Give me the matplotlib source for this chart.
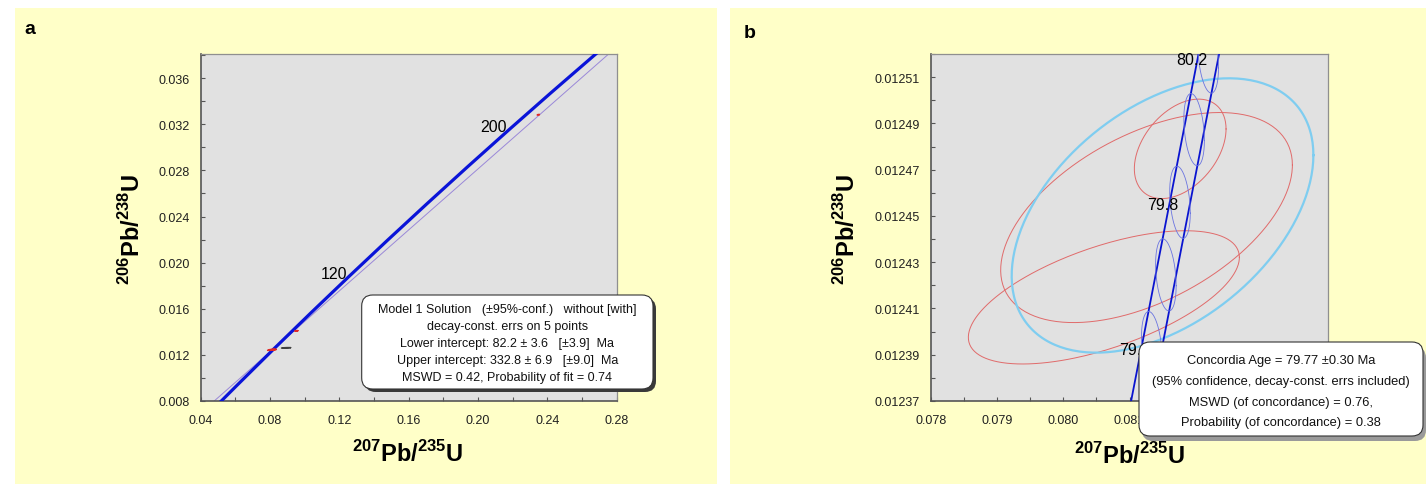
"""U-Pb concordia diagrams: (a) discordia fit, (b) concordia age detail"""

import numpy as np
import matplotlib
matplotlib.use("Agg")
import matplotlib.pyplot as plt
import matplotlib.ticker as mticker
from matplotlib.patches import FancyBboxPatch, Rectangle

plt.rcParams["font.family"] = ["Liberation Sans", "DejaVu Sans"]
plt.rcParams["mathtext.fontset"] = "custom"
plt.rcParams["mathtext.rm"] = "Liberation Sans"
plt.rcParams["mathtext.bf"] = "Liberation Sans:bold"

W, H = 1426, 485

# concordia curve, wide view (age Ma, 207Pb/235U, 206Pb/238U)
conc_age_a = [50, 60, 80, 100, 120, 140, 160, 180, 200, 220, 240, 250]
conc_x_a = [0.050475, 0.060872, 0.081975, 0.103498, 0.125451, 0.147842,
            0.170683, 0.193970, 0.217717, 0.241929, 0.266625, 0.279182]
conc_y_a = [0.007786, 0.009351, 0.012487, 0.015633, 0.018789, 0.021955,
            0.025131, 0.028316, 0.031511, 0.034717, 0.037932, 0.039543]
label_ages_a = [120, 200]

# concordia curve, close-up
conc_age_b = [79.2, 79.4, 79.6, 79.8, 80.0, 80.2, 80.4]
conc_x_b = [0.081123, 0.081336, 0.081549, 0.081762, 0.081975, 0.082188, 0.082401]
conc_y_b = [0.0123617, 0.0123931, 0.0124245, 0.0124559, 0.0124873, 0.0125187, 0.0125502]
label_ages_b = [79.4, 79.8, 80.2]
tick_ages_b = [79.4, 79.6, 79.8, 80.0, 80.2]
band_dx = 0.000155       # decay-constant envelope half width in 207/235
tick_dy = 0.0000156      # age-tick ellipse half height
tick_rho = -0.3

# discordia intercepts (82.2 Ma, 332.8 Ma)
lower_int = (0.084322, 0.012833)
upper_int = (0.387853, 0.052981)

# analyses, 95% ellipses: centre, half extents, error correlation
pt_x = [0.081257, 0.081765, 0.080613, 0.0951, 0.2347]
pt_y = [0.0124493, 0.0124790, 0.0124148, 0.01408, 0.03283]
pt_hx = [0.002201, 0.000692, 0.002045, 0.0009, 0.0006]
pt_hy = [0.0000454, 0.0000215, 0.0000288, 0.00003, 0.00003]
pt_rho = [0.5, 0.4, 0.6, 0.5, 0.5]

# analysis not used in the fit
rej_x, rej_y, rej_hx, rej_hy, rej_rho = 0.0892, 0.01261, 0.0026, 0.00003, 0.5

# concordia age ellipse
cage_x, cage_y, cage_hx, cage_hy, cage_rho = 0.0814985, 0.0124502, 0.0022765, 0.0000593, 0.44

box_a_lines = [
    "Model 1 Solution   (±95%-conf.)   without [with]",
    "decay-const. errs on 5 points",
    "Lower intercept: 82.2 ± 3.6   [±3.9]  Ma",
    "Upper intercept: 332.8 ± 6.9   [±9.0]  Ma",
    "MSWD = 0.42, Probability of fit = 0.74",
]
box_b_lines = [
    "Concordia Age = 79.77 ±0.30 Ma",
    "(95% confidence, decay-const. errs included)",
    "MSWD (of concordance) = 0.76,",
    "Probability (of concordance) = 0.38",
]

YELLOW = "#FFFFC8"
PLOT_BG = "#E1E1E1"
XLAB = r"$^{\mathbf{207}}$Pb/$^{\mathbf{235}}$U"
YLAB = r"$^{\mathbf{206}}$Pb/$^{\mathbf{238}}$U"


def ellipse_xy(cx, cy, hx, hy, rho, n=240):
    t = np.linspace(0, 2 * np.pi, n)
    return cx + hx * np.cos(t), cy + hy * (rho * np.cos(t) + np.sqrt(1 - rho ** 2) * np.sin(t))


def px_axes(fig, zorder):
    """full-figure overlay in pixel units (y down)"""
    ov = fig.add_axes([0, 0, 1, 1], zorder=zorder)
    ov.set_xlim(0, W)
    ov.set_ylim(H, 0)
    ov.axis("off")
    return ov


def style_axes(ax, xlim, ylim, xmaj, xmin, ymaj, ymin, xfmt, yfmt, yoff=0.0):
    ax.set_facecolor(PLOT_BG)
    ax.set_xlim(*xlim)
    ax.set_ylim(*ylim)
    ax.xaxis.set_major_locator(mticker.MultipleLocator(xmaj))
    ax.xaxis.set_minor_locator(mticker.MultipleLocator(xmin))
    ax.yaxis.set_major_locator(mticker.MultipleLocator(ymaj, offset=yoff))
    ax.yaxis.set_minor_locator(mticker.MultipleLocator(ymin))
    ax.xaxis.set_major_formatter(mticker.FormatStrFormatter(xfmt))
    ax.yaxis.set_major_formatter(mticker.FormatStrFormatter(yfmt))
    ax.tick_params(which="both", direction="in", length=3, width=0.8, color="#555555",
                   labelsize=9, labelcolor="#202020")
    ax.tick_params(axis="x", which="major", pad=9)
    ax.tick_params(axis="y", which="major", pad=8)
    for side in ("left", "bottom"):
        ax.spines[side].set_color("#555555")
        ax.spines[side].set_linewidth(1.2)
    for side in ("top", "right"):
        ax.spines[side].set_color("#8f8f8f")
        ax.spines[side].set_linewidth(0.9)


def result_box(ov, x0, y0, x1, y1, lines, ys, fontsize, shadow_col, shadow_off):
    dx, dy = shadow_off
    ov.add_patch(FancyBboxPatch((x0 + dx, y0 + dy), x1 - x0, y1 - y0,
                                boxstyle="round,pad=0,rounding_size=11",
                                fc=shadow_col, ec="none", clip_on=False))
    ov.add_patch(FancyBboxPatch((x0, y0), x1 - x0, y1 - y0,
                                boxstyle="round,pad=0,rounding_size=11",
                                fc="white", ec="#333333", lw=0.8, clip_on=False))
    xc = (x0 + x1) / 2
    for s, y in zip(lines, ys):
        ov.text(xc, y, s, ha="center", va="center", fontsize=fontsize, color="#111111")


fig = plt.figure(figsize=(W / 100, H / 100), dpi=100, facecolor="white")
bg = px_axes(fig, 0)
bg.add_patch(Rectangle((14.5, 9.3), 702.8, H, fc=YELLOW, ec="none"))
bg.add_patch(Rectangle((730, 9.3), W - 730, H, fc=YELLOW, ec="none"))
bg.text(24, 30, "a", fontsize=14, fontweight="bold", ha="left", va="center")
bg.text(744, 34, "b", fontsize=14, fontweight="bold", ha="left", va="center")
for xc, yc in ((408, 454), (1130, 456)):
    bg.text(xc, yc, XLAB, fontsize=17, fontweight="bold", ha="center", va="center")
for xc, yc in ((132, 229), (847, 229)):
    bg.text(xc, yc, YLAB, fontsize=17, fontweight="bold", ha="center", va="center", rotation=90)

# ---- panel a: discordia through the concordia ----
ax1 = fig.add_axes([200.7 / W, 1 - 402 / H, (616.7 - 200.7) / W, (402 - 55) / H], zorder=1)
style_axes(ax1, (0.04, 0.28), (0.008, 0.0381), 0.04, 0.02, 0.004, 0.002, "%.2f", "%.3f")
ax1.axline(lower_int, upper_int, color="#9a88d8", lw=0.7, zorder=2)
ax1.plot(conc_x_a, conc_y_a, color="#0a14d8", lw=2.3, solid_capstyle="round", zorder=3)
for age in label_ages_a:
    i = conc_age_a.index(age)
    ax1.text(conc_x_a[i] - 0.001, conc_y_a[i] + 0.0003, str(age), fontsize=11.5,
             ha="right", va="center", zorder=4)
ex, ey = ellipse_xy(rej_x, rej_y, rej_hx, rej_hy, rej_rho)
ax1.plot(ex, ey, color="#404040", lw=1.0, zorder=4)
for cx, cy, hx, hy, r in zip(pt_x, pt_y, pt_hx, pt_hy, pt_rho):
    ex, ey = ellipse_xy(cx, cy, hx, hy, r)
    ax1.plot(ex, ey, color="#e02828", lw=1.0, zorder=4)

# ---- panel b: concordia age close-up ----
ax2 = fig.add_axes([930.7 / W, 1 - 402 / H, (1328.3 - 930.7) / W, (402 - 55) / H], zorder=1)
style_axes(ax2, (0.078, 0.084), (0.01237, 0.01252), 0.001, 0.0005, 0.00002, 0.00001,
           "%.3f", "%.5f", yoff=0.00001)
cx_b = np.array(conc_x_b)
ax2.plot(cx_b - band_dx, conc_y_b, color="#0a14d0", lw=1.3, zorder=3)
ax2.plot(cx_b + band_dx, conc_y_b, color="#0a14d0", lw=1.3, zorder=3)
for age in tick_ages_b:
    i = conc_age_b.index(age)
    ex, ey = ellipse_xy(conc_x_b[i], conc_y_b[i], band_dx, tick_dy, tick_rho)
    ax2.plot(ex, ey, color="#6a74e0", lw=0.6, zorder=3)
for cx, cy, hx, hy, r in zip(pt_x[:3], pt_y[:3], pt_hx[:3], pt_hy[:3], pt_rho[:3]):
    ex, ey = ellipse_xy(cx, cy, hx, hy, r)
    ax2.plot(ex, ey, color="#e06a6a", lw=0.7, zorder=2)
ex, ey = ellipse_xy(cage_x, cage_y, cage_hx, cage_hy, cage_rho)
ax2.plot(ex, ey, color="#7fcdf0", lw=1.6, zorder=2)
for age in label_ages_b:
    i = conc_age_b.index(age)
    ax2.text(conc_x_b[i] - 0.00002, conc_y_b[i] - 0.000001, f"{age:.1f}", fontsize=11.5,
             ha="right", va="center", zorder=4)
# tick labels lying fully under the result box are not drawn
fig.canvas.draw()
for lab in ax2.get_xticklabels():
    if lab.get_position()[0] > 0.0815:
        lab.set_visible(False)

# ---- result boxes ----
fg = px_axes(fig, 3)
result_box(fg, 361.7, 296, 653, 390, box_a_lines, [310, 327.3, 344.3, 361, 377.7], 9,
           "#3a3a3a", (3, 3))
result_box(fg, 1139, 343, 1423, 437, box_b_lines, [361, 382, 403, 423], 9.3,
           "#9a9a9a", (3, 5))

fig.savefig("out.png", dpi=100)
